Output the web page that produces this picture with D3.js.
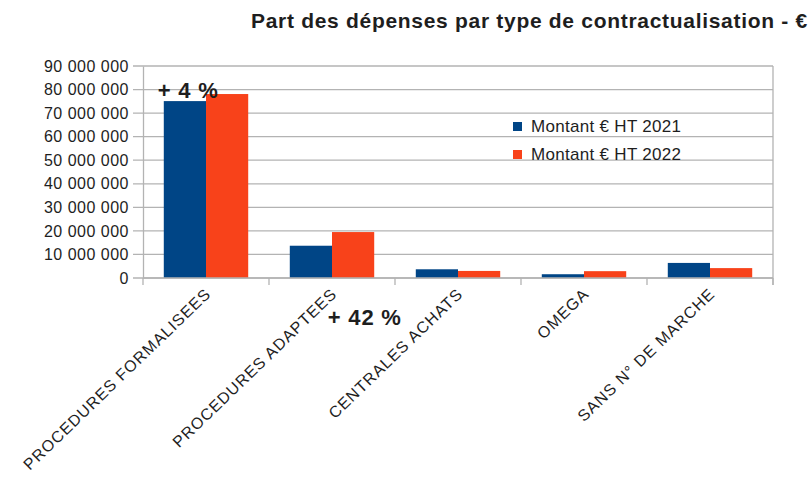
<!DOCTYPE html>
<html>
<head>
<meta charset="utf-8">
<script src="https://cdn.jsdelivr.net/npm/d3@7"></script>
<style>
  body { margin: 0; background: #fff; }
  text { font-family: "Liberation Sans", Arial, sans-serif; fill: #1e1e1e; }
</style>
</head>
<body>
<svg id="chart" width="811" height="482"></svg>
<script>
// data
var categories = ["PROCEDURES FORMALISEES", "PROCEDURES ADAPTEES", "CENTRALES ACHATS", "OMEGA", "SANS N° DE MARCHE"];
var series = ["Montant € HT 2021", "Montant € HT 2022"];
var values2021 = [75100000, 13700000, 3700000, 1600000, 6400000];
var values2022 = [78100000, 19500000, 3000000, 2900000, 4200000];
var yTicks = [0, 10000000, 20000000, 30000000, 40000000, 50000000, 60000000, 70000000, 80000000, 90000000];
var notes = [{cat: 0, text: "+ 4 %"}, {cat: 1, text: "+ 42 %"}];
var title = "Part des dépenses par type de contractualisation - €";

var colors = ["#004586", "#f8421a"];

var svg = d3.select("#chart");
var plotL = 143, plotR = 773, plotT = 66, plotB = 278;

var fr = d3.formatLocale({decimal: ",", thousands: " ", grouping: [3], currency: ["", " €"]});
var fmt = fr.format(",");

var x = d3.scaleBand().domain(categories).range([plotL, plotR]).paddingInner(0.33).paddingOuter(0.165);
var xs = d3.scaleBand().domain(series).range([0, x.bandwidth()]);
var y = d3.scaleLinear().domain([0, 90000000]).range([plotB, plotT]);

var rows = categories.map(function(c, i) { return {cat: c, vals: [values2021[i], values2022[i]]}; });

// title
svg.append("text")
   .attr("x", 251).attr("y", 28)
   .style("font-size", "21px").style("font-weight", "bold").style("letter-spacing", "0.7px")
   .text(title);

// grid
svg.append("g").selectAll("line").data(yTicks).enter().append("line")
   .attr("x1", plotL - 10).attr("x2", plotR)
   .attr("y1", function(d) { return y(d); }).attr("y2", function(d) { return y(d); })
   .attr("stroke", "#b3b3b3").attr("stroke-width", 1.3);

// y axis
var yAxis = d3.axisLeft(y).tickValues(yTicks).tickFormat(fmt).tickSize(0).tickPadding(14);
var gy = svg.append("g").attr("transform", "translate(" + plotL + ",0)").call(yAxis);
gy.select(".domain").attr("stroke", "#b3b3b3").attr("stroke-width", 1.3);
gy.selectAll("text").style("font-size", "16px").style("letter-spacing", "0.5px")
  .style("font-family", "Liberation Sans, Arial, sans-serif").attr("fill", "#1e1e1e");

// right border
svg.append("line").attr("x1", plotR).attr("x2", plotR).attr("y1", plotT).attr("y2", plotB + 7)
   .attr("stroke", "#b3b3b3").attr("stroke-width", 1.3);

// bars
var grp = svg.append("g").selectAll("g").data(rows).enter().append("g")
   .attr("transform", function(d) { return "translate(" + x(d.cat) + ",0)"; });
grp.selectAll("rect").data(function(d) { return d.vals; }).enter().append("rect")
   .attr("x", function(d, i) { return xs(series[i]); })
   .attr("width", xs.bandwidth())
   .attr("y", function(d) { return y(d); })
   .attr("height", function(d) { return plotB - y(d); })
   .attr("fill", function(d, i) { return colors[i]; });

// x axis
var step = x.step();
var bounds = d3.range(categories.length + 1).map(function(i) { return plotL + i * step; });
svg.append("line").attr("x1", plotL).attr("x2", plotR).attr("y1", plotB).attr("y2", plotB)
   .attr("stroke", "#b3b3b3").attr("stroke-width", 1.3);
svg.append("g").selectAll("line").data(bounds).enter().append("line")
   .attr("x1", function(d) { return d; }).attr("x2", function(d) { return d; })
   .attr("y1", plotB).attr("y2", plotB + 7)
   .attr("stroke", "#b3b3b3").attr("stroke-width", 1.3);

svg.append("g").selectAll("text").data(categories).enter().append("text")
   .attr("transform", function(d) { return "translate(" + (x(d) + x.bandwidth() / 2 + 2) + "," + (plotB + 13) + ") rotate(-44)"; })
   .attr("text-anchor", "end")
   .attr("dy", "0.35em")
   .style("font-size", "16px").style("letter-spacing", "1px")
   .text(function(d) { return d; });

// legend
var leg = svg.append("g").attr("transform", "translate(513,122)");
var li = leg.selectAll("g").data(series).enter().append("g")
   .attr("transform", function(d, i) { return "translate(0," + i * 28 + ")"; });
li.append("rect").attr("width", 9).attr("height", 9).attr("fill", function(d, i) { return colors[i]; });
li.append("text").attr("x", 18).attr("y", 10).style("font-size", "17px").style("letter-spacing", "0.3px")
   .text(function(d) { return d; });

// growth notes
svg.append("g").selectAll("text").data(notes).enter().append("text")
   .attr("x", function(d) { return d.cat == 0 ? x(categories[d.cat]) - 6 : x(categories[d.cat]) + 38; })
   .attr("y", function(d) { return d.cat == 0 ? y(values2022[d.cat]) + 4 : plotB + 47; })
   .style("font-size", "22px").style("font-weight", "bold").style("letter-spacing", "0.8px")
   .text(function(d) { return d.text; });
</script>
</body>
</html>
